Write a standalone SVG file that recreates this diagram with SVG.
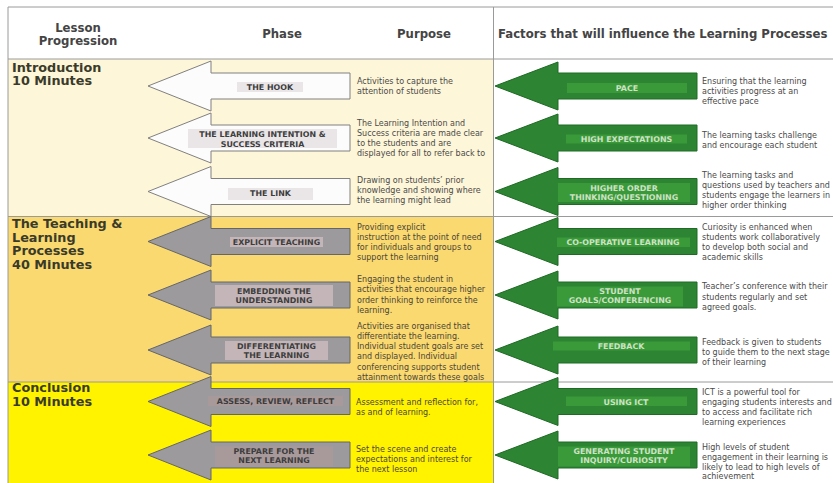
<svg xmlns="http://www.w3.org/2000/svg" width="833" height="483" viewBox="0 0 833 483">
<defs>
<style>
.hd{font-family:"DejaVu Sans","Liberation Sans",sans-serif;font-weight:bold;font-size:11.7px;fill:#444}
.sec{font-family:"DejaVu Sans","Liberation Sans",sans-serif;font-weight:bold;font-size:12.8px;fill:#3a3a2a}
.lb{font-family:"DejaVu Sans","Liberation Sans",sans-serif;font-weight:bold;font-size:7.9px;fill:#3d3d3d;text-anchor:middle}
.gl{font-family:"DejaVu Sans","Liberation Sans",sans-serif;font-weight:bold;font-size:7.9px;fill:#cfe2c6;text-anchor:middle}
.tx{font-family:"DejaVu Sans","Liberation Sans",sans-serif;font-size:8px;fill:#4a4a4a}
.ty{font-family:"DejaVu Sans","Liberation Sans",sans-serif;font-size:8px;fill:#4d4636}
.wa{fill:#fcfcfc;stroke:#808080;stroke-width:1}
.ga{fill:#9c9a9c;stroke:#666;stroke-width:1}
.gr{fill:#2d8533;stroke:#1f6a25;stroke-width:1}
.ln{stroke:#9a9a9a;stroke-width:1;fill:none}
</style>
<path id="la" d="M148,0 L211,-25 L211,-13 L350,-13 L350,13 L211,13 L211,25 Z"/>
<path id="ra" d="M495,0 L558,-24 L558,-13 L697,-13 L697,13 L558,13 L558,24 Z"/>
</defs>
<rect x="0" y="0" width="833" height="483" fill="#ffffff"/>
<g id="backgrounds">
<rect x="8" y="59" width="485" height="157.5" fill="#fef6d8"/>
<rect x="8" y="216.5" width="485" height="165.5" fill="#f9d970"/>
<rect x="8" y="382" width="485" height="101" fill="#fff300"/>
</g>
<g id="grid">
<path class="ln" d="M8,7 H833 M8,59 H833 M8,216.5 H833 M8,382 H833 M8,7 V483 M493.5,7 V483"/>
</g>
<g id="header">
<text class="hd" x="78" y="32" text-anchor="middle">Lesson</text>
<text class="hd" x="78" y="45" text-anchor="middle">Progression</text>
<text class="hd" x="282" y="38" text-anchor="middle">Phase</text>
<text class="hd" x="424" y="38" text-anchor="middle">Purpose</text>
<text class="hd" x="498" y="38">Factors that will influence the Learning Processes</text>
</g>
<g id="section-intro">
<text class="sec" x="12" y="71.5">Introduction</text>
<text class="sec" x="12" y="85">10 Minutes</text>
</g>
<g id="section-teaching">
<text class="sec" x="12" y="228">The Teaching &amp;</text>
<text class="sec" x="12" y="241.5">Learning</text>
<text class="sec" x="12" y="255">Processes</text>
<text class="sec" x="12" y="268.5">40 Minutes</text>
</g>
<g id="section-conclusion">
<text class="sec" x="12" y="392">Conclusion</text>
<text class="sec" x="12" y="405.5">10 Minutes</text>
</g>

<g id="phase-hook">
<use href="#la" class="wa" transform="translate(0,86)"/>
<rect x="237" y="82" width="66" height="10" fill="#eae6e8"/>
<text class="lb" x="270" y="90">THE HOOK</text>
<text class="tx" x="357" y="83.5">Activities to capture the</text>
<text class="tx" x="357" y="93.5">attention of students</text>
</g>
<g id="phase-intention">
<use href="#la" class="wa" transform="translate(0,138)"/>
<rect x="188" y="129" width="149" height="19" fill="#eae6e8"/>
<text class="lb" x="262.5" y="137">THE LEARNING INTENTION &amp;</text>
<text class="lb" x="262.5" y="146.5">SUCCESS CRITERIA</text>
<text class="tx" x="357" y="126">The Learning Intention and</text>
<text class="tx" x="357" y="136">Success criteria are made clear</text>
<text class="tx" x="357" y="146">to the students and are</text>
<text class="tx" x="357" y="156">displayed for all to refer back to</text>
</g>
<g id="phase-link">
<use href="#la" class="wa" transform="translate(0,191.5)"/>
<rect x="228" y="188" width="85" height="12" fill="#eae6e8"/>
<text class="lb" x="270.5" y="195.5">THE LINK</text>
<text class="tx" x="357" y="183">Drawing on students’ prior</text>
<text class="tx" x="357" y="193">knowledge and showing where</text>
<text class="tx" x="357" y="203">the learning might lead</text>
</g>
<g id="phase-explicit">
<use href="#la" class="ga" transform="translate(0,241.5)"/>
<rect x="230" y="237" width="93" height="10" fill="#c4b6b8"/>
<text class="lb" x="276.5" y="245">EXPLICIT TEACHING</text>
<text class="ty" x="357" y="230">Providing explicit</text>
<text class="ty" x="357" y="240">instruction at the point of need</text>
<text class="ty" x="357" y="250">for individuals and groups to</text>
<text class="ty" x="357" y="260">support the learning</text>
</g>
<g id="phase-embedding">
<use href="#la" class="ga" transform="translate(0,295)"/>
<rect x="215" y="285" width="118" height="21" fill="#c4b6b8"/>
<text class="lb" x="274" y="294">EMBEDDING THE</text>
<text class="lb" x="274" y="303">UNDERSTANDING</text>
<text class="ty" x="357" y="282">Engaging the student in</text>
<text class="ty" x="357" y="292.3">activities that encourage higher</text>
<text class="ty" x="357" y="302.6">order thinking to reinforce the</text>
<text class="ty" x="357" y="312.9">learning.</text>
</g>
<g id="phase-differentiating">
<use href="#la" class="ga" transform="translate(0,350)"/>
<rect x="225" y="341" width="103" height="19" fill="#c4b6b8"/>
<text class="lb" x="276.5" y="349">DIFFERENTIATING</text>
<text class="lb" x="276.5" y="358">THE LEARNING</text>
<text class="ty" x="357" y="328.5">Activities are organised that</text>
<text class="ty" x="357" y="338.8">differentiate the learning.</text>
<text class="ty" x="357" y="349.1">Individual student goals are set</text>
<text class="ty" x="357" y="359.4">and displayed. Individual</text>
<text class="ty" x="357" y="369.7">conferencing supports student</text>
<text class="ty" x="357" y="380">attainment towards these goals</text>
</g>
<g id="phase-assess">
<use href="#la" class="ga" transform="translate(0,401.5)"/>
<rect x="208" y="396" width="135" height="10" fill="#a8999b"/>
<text class="lb" x="275.5" y="404">ASSESS, REVIEW, REFLECT</text>
<text class="ty" x="356" y="404.5">Assessment and reflection for,</text>
<text class="ty" x="356" y="414.5">as and of learning.</text>
</g>
<g id="phase-prepare">
<use href="#la" class="ga" transform="translate(0,455)"/>
<rect x="215" y="446.5" width="118" height="20" fill="#a8999b"/>
<text class="lb" x="274" y="453.5">PREPARE FOR THE</text>
<text class="lb" x="274" y="463">NEXT LEARNING</text>
<text class="ty" x="356" y="452">Set the scene and create</text>
<text class="ty" x="356" y="462">expectations and interest for</text>
<text class="ty" x="356" y="472">the next lesson</text>
</g>

<g id="factor-pace">
<use href="#ra" class="gr" transform="translate(0,86)"/>
<rect x="567" y="83" width="120" height="10" fill="#3a9a3a"/>
<text class="gl" x="627" y="90.5">PACE</text>
<text class="tx" x="702" y="83.5">Ensuring that the learning</text>
<text class="tx" x="702" y="93.5">activities progress at an</text>
<text class="tx" x="702" y="103.5">effective pace</text>
</g>
<g id="factor-expectations">
<use href="#ra" class="gr" transform="translate(0,138)"/>
<rect x="566" y="134.5" width="121" height="9" fill="#3a9a3a"/>
<text class="gl" x="626.5" y="142">HIGH EXPECTATIONS</text>
<text class="tx" x="702" y="138">The learning tasks challenge</text>
<text class="tx" x="702" y="148">and encourage each student</text>
</g>
<g id="factor-higher-order">
<use href="#ra" class="gr" transform="translate(0,191.5)"/>
<rect x="558" y="183" width="132" height="19" fill="#3a9a3a"/>
<text class="gl" x="624" y="190.5">HIGHER ORDER</text>
<text class="gl" x="624" y="199.5">THINKING/QUESTIONING</text>
<text class="tx" x="702" y="178">The learning tasks and</text>
<text class="tx" x="702" y="188">questions used by teachers and</text>
<text class="tx" x="702" y="198">students engage the learners in</text>
<text class="tx" x="702" y="208">higher order thinking</text>
</g>
<g id="factor-cooperative">
<use href="#ra" class="gr" transform="translate(0,241.5)"/>
<rect x="557" y="237.5" width="133" height="9.5" fill="#3a9a3a"/>
<text class="gl" x="623" y="245">CO-OPERATIVE LEARNING</text>
<text class="tx" x="702" y="229.5">Curiosity is enhanced when</text>
<text class="tx" x="702" y="239.5">students work  collaboratively</text>
<text class="tx" x="702" y="249.5">to develop both social and</text>
<text class="tx" x="702" y="259.5">academic skills</text>
</g>
<g id="factor-goals">
<use href="#ra" class="gr" transform="translate(0,295)"/>
<rect x="557" y="286.5" width="126" height="20" fill="#3a9a3a"/>
<text class="gl" x="620" y="294">STUDENT</text>
<text class="gl" x="620" y="303">GOALS/CONFERENCING</text>
<text class="tx" x="702" y="289">Teacher’s conference with their</text>
<text class="tx" x="702" y="299.5">students regularly and set</text>
<text class="tx" x="702" y="309.5">agreed goals.</text>
</g>
<g id="factor-feedback">
<use href="#ra" class="gr" transform="translate(0,350)"/>
<rect x="553" y="341.5" width="137" height="9" fill="#3a9a3a"/>
<text class="gl" x="621" y="348.5">FEEDBACK</text>
<text class="tx" x="702" y="344.5">Feedback is given to students</text>
<text class="tx" x="702" y="354.5">to guide them to the next stage</text>
<text class="tx" x="702" y="364.5">of their learning</text>
</g>
<g id="factor-ict">
<use href="#ra" class="gr" transform="translate(0,401.5)"/>
<rect x="566" y="396.5" width="121" height="9.5" fill="#3a9a3a"/>
<text class="gl" x="626" y="404.5">USING ICT</text>
<text class="tx" x="702" y="394.5">ICT is a powerful tool for</text>
<text class="tx" x="702" y="404.5">engaging students interests and</text>
<text class="tx" x="702" y="414.5">to access and facilitate rich</text>
<text class="tx" x="702" y="424.5">learning experiences</text>
</g>
<g id="factor-inquiry">
<use href="#ra" class="gr" transform="translate(0,455)"/>
<rect x="558" y="446.5" width="132" height="20" fill="#3a9a3a"/>
<text class="gl" x="624" y="453.5">GENERATING STUDENT</text>
<text class="gl" x="624" y="463">INQUIRY/CURIOSITY</text>
<text class="tx" x="702" y="450">High levels of student</text>
<text class="tx" x="702" y="460">engagement in their learning is</text>
<text class="tx" x="702" y="469.5">likely to lead to high levels of</text>
<text class="tx" x="702" y="479">achievement</text>
</g>
</svg>
